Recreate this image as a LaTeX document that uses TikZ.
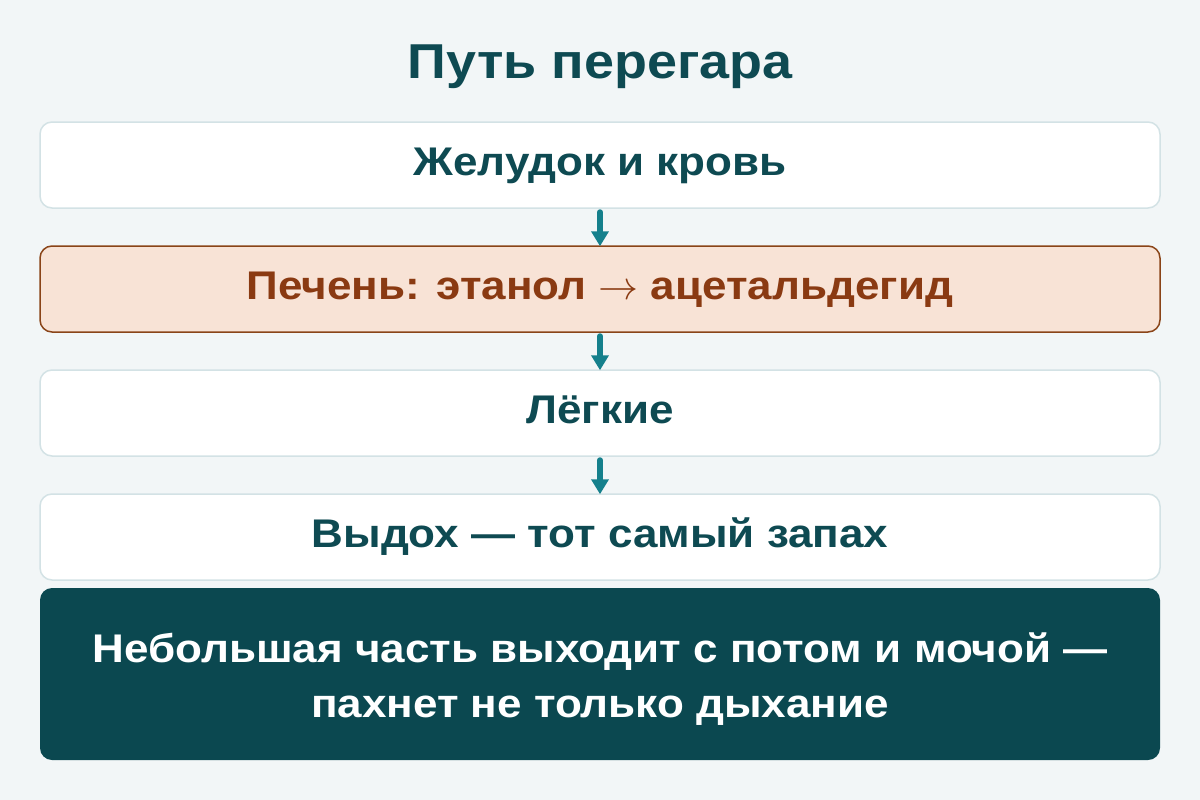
\RequirePackage{fix-cm}
\documentclass[tikz,border=0pt]{standalone}
\usepackage{fontspec}
\setmainfont{Liberation Sans}
\newfontfamily\widesans[FakeStretch=1.1]{Liberation Sans}
\usetikzlibrary{arrows.meta}
\definecolor{bg}{HTML}{F2F6F7}
\definecolor{lineborder}{HTML}{D3E2E5}
\definecolor{teal}{HTML}{0E4A52}
\definecolor{arrowc}{HTML}{15808C}
\definecolor{peach}{HTML}{F8E3D6}
\definecolor{brownb}{HTML}{8A4418}
\definecolor{brownt}{HTML}{8A3A12}
\definecolor{darkbox}{HTML}{0B4850}
\tikzset{
  stepbox/.style={draw=lineborder, line width=1.5pt, fill=white, rounded corners=12pt,
    minimum width=1120pt, minimum height=86pt, inner sep=0pt, text=teal,
    text height=28pt, text depth=7pt,
    font=\widesans\bfseries\fontsize{40}{44}\selectfont},
  hotbox/.style={stepbox, draw=brownb, fill=peach, text=brownt},
  notebox/.style={draw=none, fill=darkbox, rounded corners=12pt,
    minimum width=1120pt, minimum height=172pt, inner sep=0pt, text=white, align=center,
    font=\widesans\bfseries\fontsize{40}{54.5}\selectfont},
  flow/.style={draw=arrowc, line width=6pt, line cap=round,
    -{Triangle[width=17pt,length=15pt]}}
}
\begin{document}
\begin{tikzpicture}[x=1pt,y=-1pt]
\useasboundingbox[fill=bg] (0,0) rectangle (1200,800);
\node[anchor=base, inner sep=0pt, text=teal, font=\widesans\bfseries\fontsize{49}{52}\selectfont] (title) at (600,78) {Путь перегара};
\node[stepbox] (b1) at (600,165) {Желудок и кровь};
\node[hotbox] (b2) at (600,289) {Печень: этанол $\rightarrow$ ацетальдегид};
\node[stepbox] (b3) at (600,413) {Лёгкие};
\node[stepbox] (b4) at (600,537) {Выдох — тот самый запах};
\node[notebox] (b5) at (600,674) {\rule{0pt}{40pt}Небольшая часть выходит с потом и мочой —\\пахнет не только дыхание};
\draw[flow] ([yshift=-3.5pt]b1.south) -- ([yshift=-1pt]b2.north);
\draw[flow] ([yshift=-3.5pt]b2.south) -- ([yshift=-1pt]b3.north);
\draw[flow] ([yshift=-3.5pt]b3.south) -- ([yshift=-1pt]b4.north);
\end{tikzpicture}
\end{document}
